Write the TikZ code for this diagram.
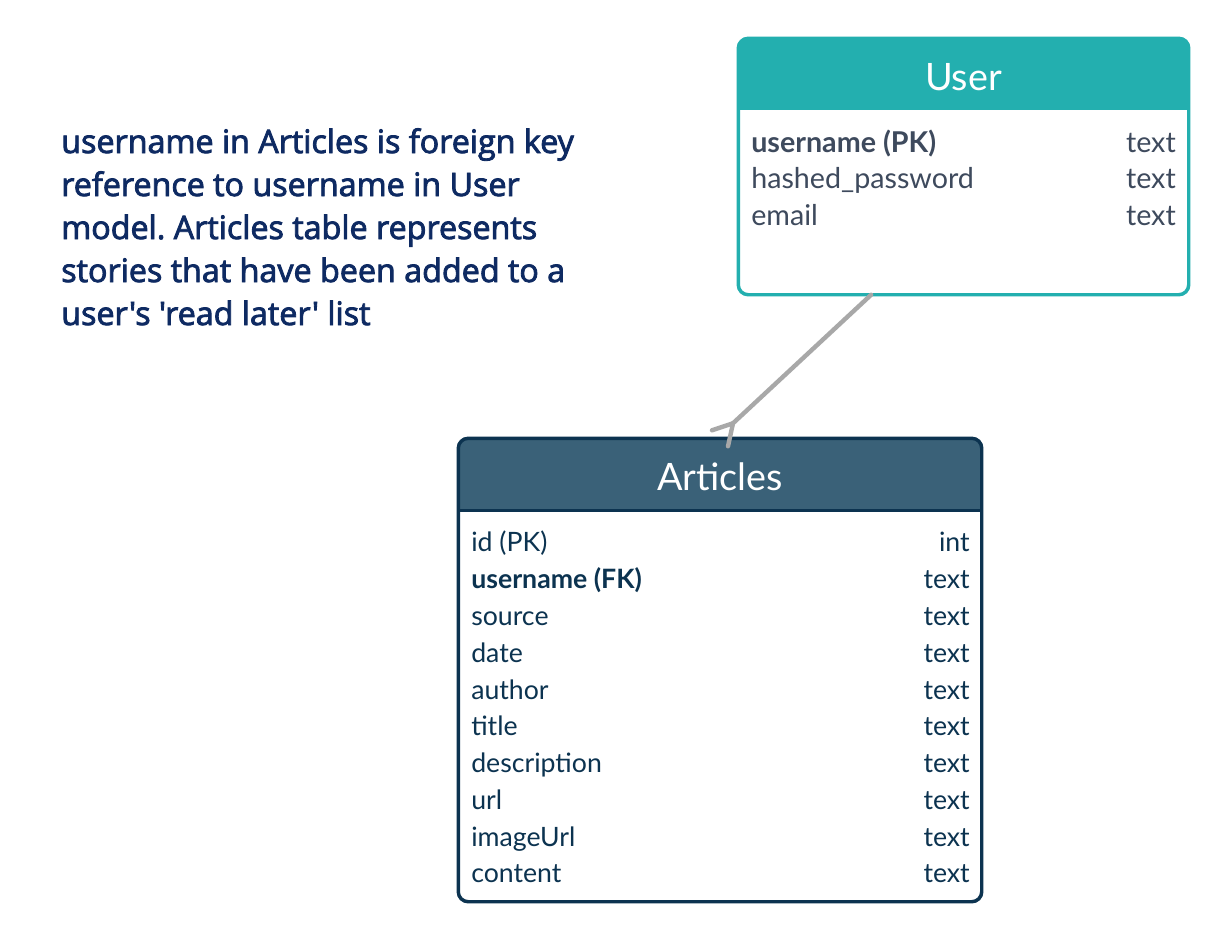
\documentclass[tikz,border=0pt]{standalone}
\usepackage{fontspec}
\setmainfont{Lato}
\newfontfamily\notefont{Open Sans}[FakeBold=2.6]
\usetikzlibrary{fit,calc}
\frenchspacing
\definecolor{userteal}{HTML}{23AFAF}
\definecolor{usertext}{HTML}{3E4A5D}
\definecolor{arthead}{HTML}{3A6178}
\definecolor{artborder}{HTML}{0C3350}
\definecolor{notecol}{HTML}{0E2A62}
\definecolor{conngray}{HTML}{A8A8A8}
\tikzset{
  tbl/.style={inner sep=0pt, rounded corners=10*0.75pt, line width=2.6pt},
  ttl/.style={inner sep=0pt, anchor=base, text=white, font=\fontsize{28.3}{34}\selectfont},
  lrow/.style={inner sep=0pt, anchor=base west, font=\fontsize{21.5}{26}\selectfont},
  rrow/.style={inner sep=0pt, anchor=base east, font=\fontsize{21.5}{26}\selectfont},
  arow/.style={text=artborder, font=\fontsize{20}{24}\selectfont},
  noteline/.style={inner sep=0pt, anchor=base west, text=notecol, font=\notefont\fontsize{24.2}{29}\selectfont},
  conn/.style={draw=conngray, line width=3.3pt, line cap=round},
}
\begin{document}
\begin{tikzpicture}[x=0.75pt, y=-0.75pt]
\useasboundingbox[fill=white] (0,0) rectangle (1227,940);

% ---------- User table ----------
\node[tbl, fit={(740,40) (1187,293)}] (user) {};
\begin{scope}
  \clip[rounded corners=10*0.75pt] (user.south west) rectangle (user.north east);
  \fill[userteal] (user.north west) rectangle ($(user.north east)+(0,72)$);
\end{scope}
\draw[tbl, draw=userteal] (user.south west) rectangle (user.north east);
\node[ttl] (usertitle) at (963.5,90) {User};
\node[lrow, text=usertext] (u1n) at (751,152) {\bfseries username (PK)};
\node[rrow, text=usertext] (u1t) at (1176,152) {text};
\node[lrow, text=usertext] (u2n) at (751,188.5) {hashed\_password};
\node[rrow, text=usertext] (u2t) at (1176,188.5) {text};
\node[lrow, text=usertext] (u3n) at (751,225) {email};
\node[rrow, text=usertext] (u3t) at (1176,225) {text};

% ---------- Articles table ----------
\node[tbl, fit={(460,440) (980,900)}] (art) {};
\begin{scope}
  \clip[rounded corners=10*0.75pt] (art.south west) rectangle (art.north east);
  \fill[arthead] (art.north west) rectangle ($(art.north east)+(0,72)$);
\end{scope}
\draw[artborder, line width=2.6pt] ($(art.north west)+(0,72)$) -- ($(art.north east)+(0,72)$);
\draw[tbl, draw=artborder] (art.south west) rectangle (art.north east);
\node[ttl] (arttitle) at (720,490) {Articles};
\foreach \nm/\ty/\yy/\k in {id (PK)/int/551.5/1, {\bfseries username (FK)}/text/588.5/2, source/text/625/3, date/text/662/4, author/text/699/5, title/text/735.5/6, description/text/772.5/7, url/text/809/8, imageUrl/text/846/9, content/text/882.5/10}{
  \node[lrow, arow] (a\k n) at (471,\yy) {\nm};
  \node[rrow, arow] (a\k t) at (970,\yy) {\ty};
}

% ---------- Note ----------
\node[noteline] (note1) at (61,153) {username in Articles is foreign key};
\node[noteline] (note2) at (61,196) {reference to username in User};
\node[noteline] (note3) at (61,239) {model. Articles table represents};
\node[noteline] (note4) at (61,282) {stories that have been added to a};
\node[noteline] (note5) at (61,325) {user's 'read later' list};

% ---------- Connector (one-to-many) ----------
\coordinate (ustart) at ($(user.south west)!0.295!(user.south east)$);
\coordinate (junc) at ($(art.north)+(13,-15)$);
\draw[conn] (ustart) -- (junc);
\draw[conn] (junc) -- ++(-21,7);
\draw[conn] (junc) -- ++(-5,23);
\end{tikzpicture}
\end{document}
